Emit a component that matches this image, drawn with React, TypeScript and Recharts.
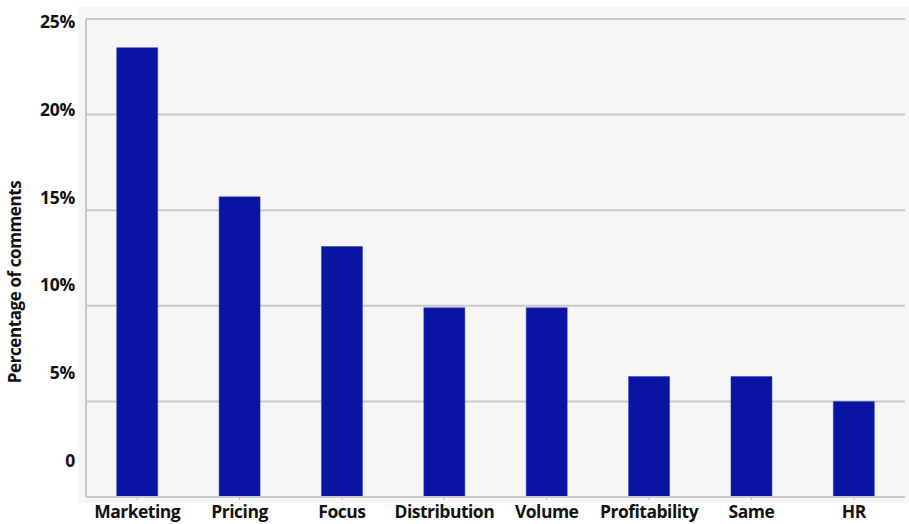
import { BarChart, Bar, XAxis, YAxis, CartesianGrid } from "recharts";

const categories = ["Marketing", "Pricing", "Focus", "Distribution", "Volume", "Profitability", "Same", "HR"];
const shares = [23.5, 15.7, 13.1, 9.9, 9.9, 6.3, 6.3, 5.0];
const yTicks = [0, 5, 10, 15, 20, 25];
const yTickLabels = ["0", "5%", "10%", "15%", "20%", "25%"];

const data = categories.map((label, i) => ({ label, value: shares[i] }));

const font = "'Open Sans', 'DejaVu Sans', sans-serif";
const plotTop = 19;

// the source labels sit a little off their gridlines; keep that drift
function YTick({ x, y, payload }: any) {
  const i = yTicks.indexOf(payload.value);
  const ty = plotTop + 3 + (y - plotTop) * 0.918;
  return (
    <text x={x - 3} y={ty} dy="0.35em" textAnchor="end" fontFamily={font} fontWeight={700} fontSize={17.5} fill="#111" style={{ letterSpacing: -0.3 }}>
      {yTickLabels[i]}
    </text>
  );
}

function XTick({ x, y, payload }: any) {
  return (
    <text x={x} y={y + 16} textAnchor="middle" fontFamily={font} fontWeight={700} fontSize={17.5} fill="#111" style={{ letterSpacing: -0.5 }}>
      {payload.value}
    </text>
  );
}

export default function App() {
  return (
    <div style={{ position: "absolute", left: 0, top: 0, width: 909, height: 524, background: "#fff" }}>
      <div style={{ position: "absolute", left: 78, top: 7, width: 831, height: 496, background: "#f6f6f6" }} />
      <div style={{ position: "absolute", left: 0, top: 0 }}>
        <BarChart width={909} height={524} data={data} margin={{ top: plotTop, right: 4, bottom: 0, left: 0 }} barCategoryGap="30%">
          <CartesianGrid vertical={false} stroke="#c8c8c8" strokeWidth={2} />
          <XAxis
            dataKey="label"
            tick={<XTick />}
            tickLine={{ stroke: "#bbb" }}
            tickSize={3}
            axisLine={{ stroke: "#c8c8c8", strokeWidth: 2 }}
            interval={0}
            height={27}
          />
          <YAxis
            domain={[0, 25]}
            ticks={yTicks}
            width={86}
            tick={<YTick />}
            tickLine={false}
            axisLine={{ stroke: "#c8c8c8", strokeWidth: 2 }}
            label={{
              value: "Percentage of comments",
              angle: -90,
              position: "insideLeft",
              dx: 10,
              dy: 24,
              style: { fontFamily: font, fontWeight: 700, fontSize: 17, fill: "#111", textAnchor: "middle", letterSpacing: -0.4 },
            }}
          />
          <Bar dataKey="value" fill="#0a14a2" stroke="#2a3ab8" strokeWidth={0.5} isAnimationActive={false} />
        </BarChart>
      </div>
    </div>
  );
}
